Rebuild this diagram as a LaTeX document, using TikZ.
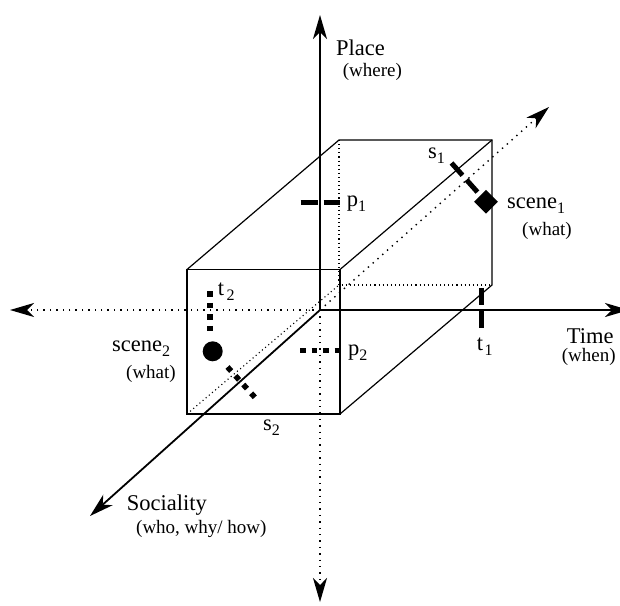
\documentclass[tikz,border=0pt]{standalone}
\usepackage{fontspec}
\setmainfont{Liberation Serif}
\usetikzlibrary{arrows.meta,shapes.geometric}
\newcommand\bigf{\fontsize{22.5}{25}\selectfont}
\newcommand\smf{\fontsize{19}{21}\selectfont}
\newcommand\lsub[1]{\raisebox{-5pt}{\fontsize{16}{16}\selectfont #1}}
\begin{document}
\begin{tikzpicture}[x=1pt,y=-1pt,
  axis/.style={line width=1.8pt},
  daxis/.style={line width=1.4pt, dash pattern=on 1.4pt off 5pt},
  edge/.style={line width=1.2pt},
  hidden/.style={line width=1.1pt, dash pattern=on 1.1pt off 3pt},
  tip/.style={-{Stealth[length=24pt,width=14pt,inset=7pt]}},
  dashmark/.style={line width=5pt, dash pattern=on 17pt off 6pt},
  dotmark/.style={line width=5.5pt, dash pattern=on 5.5pt off 6pt},
  lab/.style={inner sep=0pt, anchor=base west, font=\bigf},
  sublab/.style={inner sep=0pt, anchor=base west, font=\smf}]
\useasboundingbox (0,0) rectangle (620,605);
% axes end points
\coordinate (O) at (320,310);
\coordinate (PT) at (320,15);
\coordinate (PB) at (320,602);
\coordinate (TL) at (10,310);
\coordinate (TR) at (629,310);
\coordinate (SF) at (90,516);
\coordinate (SB) at (549,107);
% box corners
\coordinate (f1) at (187,269.5);
\coordinate (f2) at (340,269.5);
\coordinate (f3) at (340,414);
\coordinate (f4) at (187,414);
\coordinate (b1) at (339,140);
\coordinate (b2) at (492,140);
\coordinate (b3) at (492,285);
\coordinate (b4) at (339,285);
% hidden edges
\draw[hidden] (b1) -- (b4) -- (b3);
\draw[hidden] (f4) -- (b4);
% axes
\draw[axis,tip] (O) -- (PT);
\draw[daxis,tip] (O) -- (PB);
\draw[axis,tip] (O) -- (TR);
\draw[daxis,tip] (O) -- (TL);
\draw[axis,tip] (O) -- (SF);
\draw[daxis,tip] (O) -- (SB);
% box
\draw[edge] (f1) -- (f2) -- (f3) -- (f4) -- cycle;
\draw[edge] (f1) -- (b1) -- (b2) -- (b3) -- (f3);
\draw[edge] (f2) -- (b2);
% markers
\coordinate (p1a) at (300.5,202);
\coordinate (p1b) at (340,202);
\draw[dashmark] (p1a) -- (p1b);
\coordinate (t1a) at (481.7,288);
\coordinate (t1b) at (481.7,328.5);
\draw[dashmark] (t1a) -- (t1b);
\coordinate (sc1c) at (486,201.7);
\coordinate (s1a) at (451.5,163);
\draw[dashmark, dash pattern=on 16.5pt off 6pt] (s1a) -- (sc1c);
\node[diamond, fill, minimum size=24pt, inner sep=0pt] (sc1) at (sc1c) {};
\coordinate (t2a) at (210,291.3);
\coordinate (t2b) at (210,331.3);
\draw[dotmark] (t2a) -- (t2b);
\coordinate (p2a) at (300,350.7);
\coordinate (p2b) at (340,350.7);
\draw[dotmark] (p2a) -- (p2b);
\coordinate (s2a) at (227.5,367);
\coordinate (s2b) at (254.8,397.3);
\draw[dotmark, dash pattern=on 5.5pt off 6.3pt] (s2a) -- (s2b);
\node[circle, fill, minimum size=20pt, inner sep=0pt] (sc2) at (212.7,351.3) {};
% labels
\node[lab] (lplace) at (336,55) {Place};
\node[sublab] (lwhere) at (342.7,76) {(where)};
\node[lab] (ltime) at (566.7,343.3) {Time};
\node[sublab] (lwhen) at (561.7,361) {(when)};
\node[lab] (lsoc) at (126.7,510) {Sociality};
\node[sublab] (lwho) at (136,533) {(who, why/ how)};
\node[lab] (lsc1) at (507,208.3) {scene\lsub{1}};
\node[sublab] (lw1) at (522,235.6) {(what)};
\node[lab] (lsc2) at (112,351) {scene\lsub{2}};
\node[sublab] (lw2) at (126,378.4) {(what)};
\node[lab] (ls1) at (428,158.3) {s\lsub{1}};
\node[lab] (ls2) at (263,430) {s\lsub{2}};
\node[lab] (lt1) at (476.7,350) {t\kern1.5pt\lsub{1}};
\node[lab] (lt2) at (217.7,295) {t\kern2.5pt\lsub{2}};
\node[lab] (lp1) at (346.7,206.7) {p\lsub{1}};
\node[lab] (lp2) at (348,355) {p\lsub{2}};
\end{tikzpicture}
\end{document}
